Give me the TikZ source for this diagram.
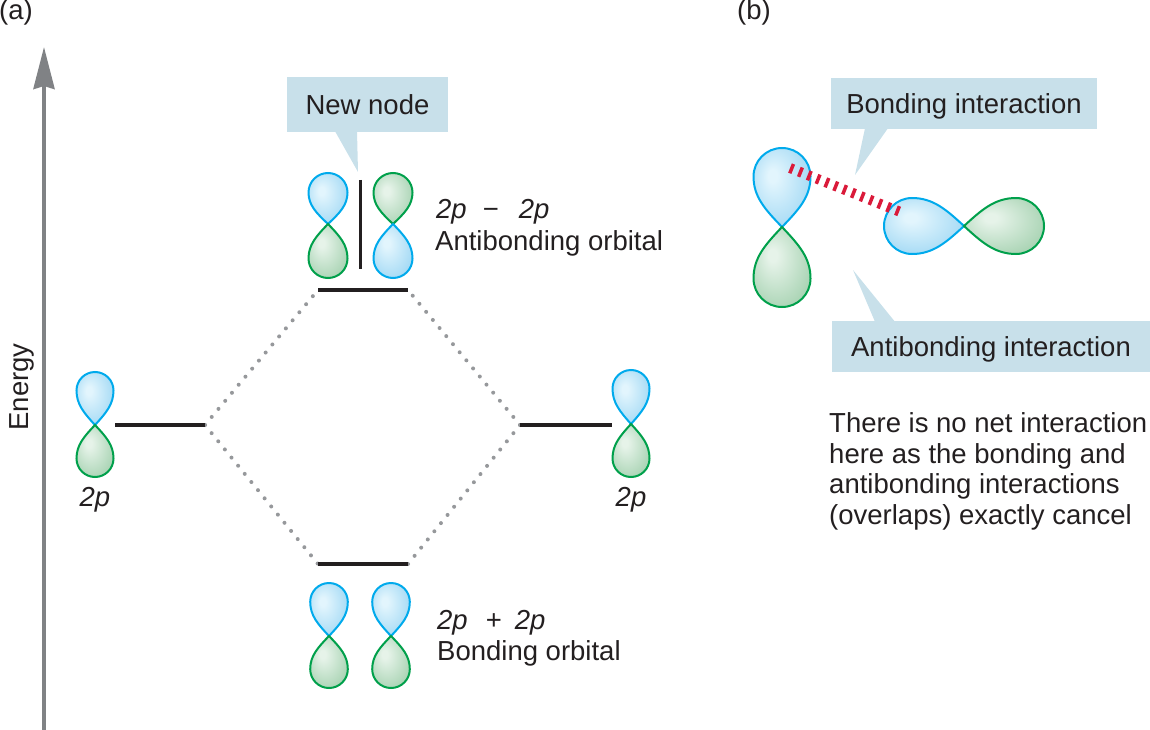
\documentclass[tikz,border=0pt]{standalone}
\usepackage{fontspec}
\setmainfont{Liberation Sans}
\usetikzlibrary{arrows.meta,calc}
\definecolor{txt}{RGB}{35,31,32}
\definecolor{bLine}{RGB}{0,170,236}
\definecolor{gLine}{RGB}{0,160,75}
\definecolor{bIn}{RGB}{226,245,253}
\definecolor{bOut}{RGB}{160,216,244}
\definecolor{gIn}{RGB}{230,243,233}
\definecolor{gOut}{RGB}{166,210,177}
\definecolor{cbox}{RGB}{200,224,234}
\definecolor{axisgray}{RGB}{128,130,133}
\definecolor{dotgray}{RGB}{150,152,155}
\definecolor{bondred}{RGB}{218,26,58}
\pgfdeclareradialshading{lobeBshade}{\pgfpoint{-9bp}{8bp}}{color(0bp)=(bIn); color(4bp)=(bIn); color(32bp)=(bOut); color(50bp)=(bOut)}
\pgfdeclareradialshading{lobeGshade}{\pgfpoint{-9bp}{8bp}}{color(0bp)=(gIn); color(4bp)=(gIn); color(32bp)=(gOut); color(50bp)=(gOut)}
\tikzset{
  lobeB/.style={shading=lobeBshade, draw=bLine, line width=2pt},
  lobeG/.style={shading=lobeGshade, draw=gLine, line width=2pt},
  level/.style={draw=txt, line width=3.5pt},
  dots/.style={draw=dotgray, line width=4pt, line cap=round, dash pattern=on 0pt off 10.5pt},
  callout/.style={fill=cbox, inner sep=0pt, text height=19.7pt, text depth=0pt},
  lbl/.style={anchor=base west},
}
% #1 x, #2 y, #3 rotation, #4 length, #5 half width, #6 B/G
\newcommand\lobe[6]{%
  \shadedraw[lobe#6, shift={(#1,#2)}, rotate=#3]
    (0,0) .. controls (-0.6*#5,-0.35*#4+0.35*#5) and (-#5,-0.6*#4+0.6*#5) .. (-#5,-#4+#5)
          .. controls (-#5,-#4+0.448*#5) and (-0.552*#5,-#4) .. (0,-#4)
          .. controls (0.552*#5,-#4) and (#5,-#4+0.448*#5) .. (#5,-#4+#5)
          .. controls (#5,-0.6*#4+0.6*#5) and (0.6*#5,-0.35*#4+0.35*#5) .. cycle;}
\begin{document}
\begin{tikzpicture}[x=1pt,y=-1pt,
  every node/.style={inner sep=0pt, text=txt, font=\fontsize{27.5}{32}\selectfont}]
\useasboundingbox (0,0) rectangle (1150,730);

% panel labels
\node[lbl] (pa) at (-1,20) {(a)};
\node[lbl] (pb) at (737,20) {(b)};

% energy axis
\coordinate (eBot) at (44,731);
\coordinate (eTop) at (44,47);
\draw[axisgray, line width=4pt, -{Stealth[length=42pt,width=21pt,inset=3pt]}] (eBot) -- (eTop);
\node[rotate=90, anchor=base] (energy) at (28,387) {Energy};

% energy levels
\coordinate (l1a) at (115,425); \coordinate (l1b) at (205,425);
\coordinate (r1a) at (520,425); \coordinate (r1b) at (612,425);
\coordinate (ta) at (318,290);  \coordinate (tb) at (408,290);
\coordinate (ba) at (318,564);  \coordinate (bb) at (408,564);
\draw[dots] (l1b) -- (ta);
\draw[dots] (l1b) -- (ba);
\draw[dots] (r1a) -- (tb);
\draw[dots] (r1a) -- (bb);
\draw[level] (l1a) -- (l1b);
\draw[level] (r1a) -- (r1b);
\draw[level] (ta) -- (tb);
\draw[level] (ba) -- (bb);

% atomic orbitals
\lobe{95}{425}{0}{53}{18.5}{B}
\lobe{95}{425}{180}{52}{18.5}{G}
\lobe{631}{424}{0}{54}{18.5}{B}
\lobe{631}{424}{180}{53}{18.5}{G}
\node[anchor=base] (lab2pL) at (95,506) {\textit{2p}};
\node[anchor=base] (lab2pR) at (631,506) {\textit{2p}};

% antibonding MO
\lobe{328}{224}{0}{51}{19.5}{B}
\lobe{328}{224}{180}{54}{19.5}{G}
\lobe{393}{224}{0}{51}{19.5}{G}
\lobe{393}{224}{180}{54}{19.5}{B}
\coordinate (nodeTop) at (360,180);
\coordinate (nodeBot) at (360,269);
\draw[level, line width=3pt] (nodeTop) -- (nodeBot);
\node[lbl] (abl1) at (436,218) {\textit{2p}\hspace{16pt}−\hspace{20pt}\textit{2p}};
\node[lbl] (abl2) at (435,250) {Antibonding orbital};

% bonding MO
\lobe{329}{636}{0}{53}{18.8}{B}
\lobe{329}{636}{180}{52}{18.8}{G}
\lobe{391}{636}{0}{53}{18.8}{B}
\lobe{391}{636}{180}{52}{18.8}{G}
\node[lbl] (bl1) at (437,629) {\textit{2p}\hspace{18pt}+\hspace{13pt}\textit{2p}};
\node[lbl] (bl2) at (437,660) {Bonding orbital};

% callout: new node
\node[callout, minimum width=161pt, minimum height=55pt] (cNN) at (367.5,104.5) {New node};
\coordinate (tNN) at (358,172);
\fill[cbox] ($(cNN.south)+(-32.5,-1)$) -- (tNN) -- ($(cNN.south)+(-10.5,-1)$) -- cycle;

% panel b orbitals
\lobe{782}{227}{0}{79}{28.5}{B}
\lobe{782}{227}{180}{80}{28.5}{G}
\lobe{964}{226}{90}{80}{28}{B}
\lobe{964}{226}{-90}{80}{28}{G}
\coordinate (rd1) at (790,168);
\coordinate (rd2) at (903,213);
\draw[bondred, line width=10pt, dash pattern=on 3.5pt off 6pt] (rd1) -- (rd2);

% callouts panel b
\node[callout, minimum width=266pt, minimum height=51pt] (cBI) at (964,103.5) {Bonding interaction};
\coordinate (tBI) at (855,175);
\fill[cbox] ($(cBI.south)+(-99,-1)$) -- (tBI) -- ($(cBI.south)+(-76,-1)$) -- cycle;
\node[callout, minimum width=318pt, minimum height=51pt] (cAI) at (991,346.5) {Antibonding interaction};
\coordinate (tAI) at (853,270);
\fill[cbox] ($(cAI.north)+(-116,1)$) -- (tAI) -- ($(cAI.north)+(-96,1)$) -- cycle;

% explanation
\node[lbl] (ex1) at (829,432) {There is no net interaction};
\node[lbl] (ex2) at (829,463) {here as the bonding and};
\node[lbl] (ex3) at (829,493) {antibonding interactions};
\node[lbl] (ex4) at (829,524) {(overlaps) exactly cancel};
\end{tikzpicture}
\end{document}
